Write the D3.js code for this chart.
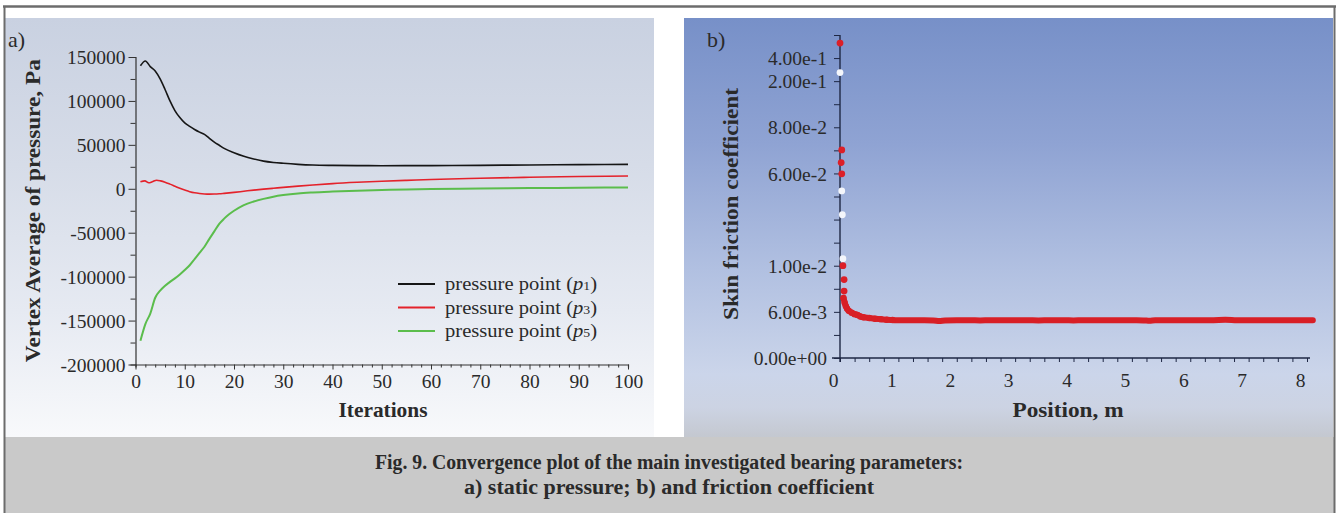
<!DOCTYPE html>
<html>
<head>
<meta charset="utf-8">
<script src="https://cdn.jsdelivr.net/npm/d3@7/dist/d3.min.js"></script>
<style>
  body { margin: 0; background: #ffffff; }
  svg { display: block; }
  text { font-family: "Liberation Serif", "Times New Roman", serif; fill: #2a2a2a; }
</style>
</head>
<body>
<svg id="chart" width="1339" height="513"></svg>
<script>
// ---------------- DATA: panel a) static pressure ----------------
const p1Iter = [1, 2, 3, 4, 5, 6, 7, 8, 9, 10, 11, 12, 13, 14, 15, 16, 17, 18, 20, 22, 24, 26, 28, 30, 33, 36, 40, 45, 50, 60, 70, 80, 90, 100];
const p1Val  = [140000, 145500, 139000, 134000, 125000, 113000, 100000, 89000, 81000, 75000, 71000, 67500, 64500, 62000, 57500, 53000, 49500, 46000, 41000, 37000, 34000, 31500, 30000, 29000, 27800, 27000, 26600, 26400, 26300, 26400, 26700, 27100, 27500, 27800];

const p3Iter = [1, 1.9, 2.7, 3.4, 4.3, 5.1, 6, 7, 8, 9, 10, 11, 12, 13, 14, 15, 16, 17, 18, 20, 22, 24, 26, 28, 30, 33, 36, 40, 45, 50, 55, 60, 70, 80, 90, 100];
const p3Val  = [7900, 9000, 6800, 8000, 9800, 9000, 7500, 5300, 2900, 500, -1500, -3300, -4600, -5400, -5900, -6100, -6000, -5700, -5200, -4100, -2800, -1500, -400, 600, 1600, 3000, 4300, 5900, 7400, 8600, 9600, 10600, 12000, 13100, 13900, 14600];

const p5Iter = [1, 2, 3, 4, 5, 6, 7, 8, 9, 10, 11, 12, 13, 14, 15, 16, 17, 18, 19, 20, 22, 24, 26, 28, 30, 33, 36, 40, 45, 50, 55, 60, 70, 80, 90, 100];
const p5Val  = [-173000, -154000, -142000, -124000, -116000, -110500, -106000, -102000, -97500, -92500, -87000, -80000, -73000, -66000, -57000, -48500, -40000, -34000, -29000, -25000, -18500, -14500, -11500, -9000, -7200, -5300, -4200, -3200, -2200, -1400, -700, -300, 300, 800, 1200, 1500];

const seriesSub = ["1", "3", "5"];
const xTicksA = [0, 10, 20, 30, 40, 50, 60, 70, 80, 90, 100];
const yTicksA = [150000, 100000, 50000, 0, -50000, -100000, -150000, -200000];

// ---------------- DATA: panel b) skin friction coefficient ----------------
const sparsePos = [0.00, 0.00, 0.03, 0.02, 0.03, 0.03, 0.04, 0.05, 0.05, 0.07, 0.07];
const sparseVal = [0.53, 0.274, 0.0702, 0.0647, 0.0598, 0.0505, 0.0376, 0.0138, 0.0100, 0.0088, 0.0078];
const sparseKind = ["red", "white", "red", "red", "red", "white", "white", "white", "red", "red", "red"];
const curvePos = [0.06, 0.08, 0.10, 0.12, 0.15, 0.20, 0.25, 0.30, 0.35, 0.40, 0.50, 0.60, 0.70, 0.80, 0.90,
  1.0, 1.2, 1.4, 1.6, 1.7, 1.8, 2.0, 2.2, 2.4, 2.6, 2.8, 3.0, 3.2, 3.4, 3.6, 3.8, 4.0, 4.2, 4.4, 4.6, 4.8,
  5.0, 5.2, 5.3, 5.4, 5.6, 5.8, 6.0, 6.2, 6.4, 6.6, 6.8, 7.0, 7.2, 7.4, 7.6, 7.8, 8.0, 8.1];
const curveVal = [0.0072, 0.0068, 0.0065, 0.0063, 0.0061, 0.0059, 0.0057, 0.0056, 0.0054, 0.0053, 0.0052, 0.0051, 0.00505, 0.00498, 0.00494,
  0.00490, 0.00491, 0.00490, 0.00488, 0.00482, 0.00488, 0.00490, 0.00490, 0.00489, 0.00490, 0.00491, 0.00490, 0.00490, 0.00489, 0.00490, 0.00490, 0.00489, 0.00490, 0.00491, 0.00490, 0.00490,
  0.00490, 0.00489, 0.00484, 0.00490, 0.00490, 0.00491, 0.00490, 0.00491, 0.00492, 0.00496, 0.00491, 0.00490, 0.00490, 0.00491, 0.00490, 0.00490, 0.00490, 0.00490];

const xTicksB = [0, 1, 2, 3, 4, 5, 6, 7, 8];
const yTickValuesB = [0, 0.006, 0.01, 0.06, 0.08, 0.2, 0.4];
const yTickLabelsB = ["0.00e+00", "6.00e-3", "1.00e-2", "6.00e-2", "8.00e-2", "2.00e-1", "4.00e-1"];
const yTickSlotsB  = [0, 2, 4, 8, 10, 12, 13];
const ySlotCountB  = 14;

const captionLines = [
  "Fig. 9. Convergence plot of the main investigated bearing parameters:",
  "a) static pressure; b) and friction coefficient"
];

// ---------------- DRAWING ----------------
const svg = d3.select("#chart");
const defs = svg.append("defs");

const gA = defs.append("linearGradient").attr("id", "bgA").attr("x1", 0).attr("y1", 0).attr("x2", 0).attr("y2", 1);
[[0, "#c9d1e1"], [0.35, "#d6dce8"], [0.7, "#e6eaf2"], [1, "#f8f9fb"]].forEach(s => gA.append("stop").attr("offset", s[0]).attr("stop-color", s[1]));
const gB = defs.append("linearGradient").attr("id", "bgB").attr("x1", 0).attr("y1", 0).attr("x2", 0).attr("y2", 1);
[[0, "#7790c8"], [0.3, "#8fa3d3"], [0.6, "#b1c0e1"], [0.85, "#cbd5ea"], [0.93, "#ccd3e3"], [1, "#c4c8d0"]].forEach(s => gB.append("stop").attr("offset", s[0]).attr("stop-color", s[1]));

svg.append("rect").attr("x", 5).attr("y", 437).attr("width", 1329).attr("height", 76).attr("fill", "#c9c9c9");
svg.append("rect").attr("x", 5).attr("y", 18).attr("width", 649).attr("height", 419).attr("fill", "url(#bgA)");
svg.append("rect").attr("x", 684).attr("y", 18).attr("width", 649).attr("height", 419).attr("fill", "url(#bgB)");
svg.append("line").attr("x1", 3).attr("x2", 1336).attr("y1", 6.5).attr("y2", 6.5).attr("stroke", "#6c6c6c").attr("stroke-width", 2.5);
svg.append("line").attr("x1", 4.5).attr("x2", 4.5).attr("y1", 6).attr("y2", 513).attr("stroke", "#6c6c6c").attr("stroke-width", 2);
svg.append("line").attr("x1", 1334.5).attr("x2", 1334.5).attr("y1", 6).attr("y2", 513).attr("stroke", "#6c6c6c").attr("stroke-width", 2);

captionLines.forEach((t, i) => {
  svg.append("text").attr("x", 669).attr("y", 469 + i * 25).attr("text-anchor", "middle")
    .attr("font-size", 20.5).attr("font-weight", "bold").attr("fill", "#222")
    .attr("textLength", i === 0 ? 588 : 410).attr("lengthAdjust", "spacingAndGlyphs").text(t);
});

// ---------- panel a ----------
const xA = d3.scaleLinear().domain([0, 100]).range([135.5, 628]);
const yA = d3.scaleLinear().domain([-200000, 150000]).range([364.5, 57]);
const axisColA = "#333";

const axA = svg.append("g").attr("transform", `translate(0,${yA(-200000)})`);
axA.call(d3.axisBottom(xA).tickValues(d3.range(0, 101, 2)).tickSize(3).tickFormat(""));
axA.call(g => g.selectAll(".tick line").filter(d => d % 10 === 0).attr("y2", 5));
axA.selectAll(".tick").filter(d => xTicksA.includes(d)).append("text")
  .attr("y", 23).attr("text-anchor", "middle").attr("font-size", 19.5).text(d => d);
axA.select(".domain").attr("stroke", axisColA).attr("stroke-width", 1.2);
axA.selectAll(".tick line").attr("stroke", axisColA);

const ayA = svg.append("g").attr("transform", `translate(${xA(0)},0)`);
ayA.call(d3.axisLeft(yA).tickValues(d3.range(-200000, 150001, 25000)).tickSize(5).tickFormat(""));
ayA.call(g => g.selectAll(".tick line").filter(d => d % 50000 === 0).attr("x2", -7));
ayA.selectAll(".tick").filter(d => yTicksA.includes(d)).append("text")
  .attr("x", -10).attr("dy", "0.34em").attr("text-anchor", "end").attr("font-size", 19.5).text(d => d);
ayA.select(".domain").attr("stroke", axisColA).attr("stroke-width", 1.2);
ayA.selectAll(".tick line").attr("stroke", axisColA);

svg.append("text").attr("x", 383).attr("y", 417).attr("text-anchor", "middle")
  .attr("font-size", 21).attr("font-weight", "bold").attr("textLength", 89).attr("lengthAdjust", "spacingAndGlyphs").text("Iterations");
svg.append("text").attr("transform", `translate(40,${yA(-25000)}) rotate(-90)`).attr("text-anchor", "middle")
  .attr("font-size", 22).attr("font-weight", "bold").attr("textLength", 303).attr("lengthAdjust", "spacingAndGlyphs")
  .text("Vertex Average of pressure, Pa");
svg.append("text").attr("x", 8).attr("y", 47).attr("font-size", 22).text("a)");

const lineA = d3.line().x(d => xA(d[0])).y(d => yA(d[1])).curve(d3.curveMonotoneX);
const seriesA = [
  { iter: p1Iter, val: p1Val, color: "#161616", w: 1.6 },
  { iter: p3Iter, val: p3Val, color: "#e4222b", w: 1.6 },
  { iter: p5Iter, val: p5Val, color: "#5bbd4c", w: 2 }
];
[2, 1, 0].forEach(i => {
  const s = seriesA[i];
  svg.append("path").datum(s.iter.map((x, k) => [x, s.val[k]]))
    .attr("fill", "none").attr("stroke", s.color).attr("stroke-width", s.w)
    .attr("stroke-linejoin", "round").attr("d", lineA);
});

const leg = svg.append("g");
seriesA.forEach((s, i) => {
  const y = 284 + i * 23.5;
  leg.append("line").attr("x1", 398).attr("x2", 435).attr("y1", y).attr("y2", y)
    .attr("stroke", s.color).attr("stroke-width", 2.2);
  const t = leg.append("text").attr("x", 445).attr("y", y + 6).attr("font-size", 19.5)
    .attr("textLength", 152).attr("lengthAdjust", "spacingAndGlyphs");
  t.append("tspan").text("pressure point (");
  t.append("tspan").attr("font-style", "italic").text("p");
  t.append("tspan").attr("font-size", 13).text(seriesSub[i]);
  t.append("tspan").text(")");
});

// ---------- panel b ----------
const xB = d3.scaleLinear().domain([0, 8]).range([840, 1307]);
const ySlot = d3.scaleLinear().domain([0, ySlotCountB]).range([358, 35]);
const valToSlot = d3.scaleLinear().domain(yTickValuesB).range(yTickSlotsB);
const yB = v => ySlot(valToSlot(v));
const axisColB = "#1e2744";

const axB = svg.append("g").attr("transform", `translate(0,${ySlot(0)})`);
axB.call(d3.axisBottom(xB).tickValues(d3.range(0, 8.01, 0.25)).tickSize(4).tickFormat(""));
axB.select(".domain").attr("d", `M${xB(0) - 8},0H${xB(8) + 3}`).attr("stroke", axisColB).attr("stroke-width", 1.4);
axB.selectAll(".tick line").attr("stroke", axisColB);
axB.selectAll(".tick").filter(d => xTicksB.includes(d)).append("text")
  .attr("x", -7).attr("y", 29).attr("text-anchor", "middle").attr("font-size", 19.5).text(d => d);

const ayB = svg.append("g").attr("transform", `translate(${xB(0)},0)`);
ayB.call(d3.axisLeft(ySlot).tickValues(d3.range(0, ySlotCountB + 1)).tickSize(6).tickFormat(""));
ayB.select(".domain").attr("d", `M0,${ySlot(0) + 4}V${ySlot(ySlotCountB)}`).attr("stroke", axisColB).attr("stroke-width", 1.4);
ayB.selectAll(".tick line").attr("stroke", axisColB);
ayB.selectAll(".tick").filter(d => yTickSlotsB.includes(d)).append("text")
  .attr("x", -13).attr("dy", "0.34em").attr("text-anchor", "end").attr("font-size", 19.5)
  .text(d => yTickLabelsB[yTickSlotsB.indexOf(d)]);

svg.append("text").attr("x", 1068).attr("y", 417).attr("text-anchor", "middle")
  .attr("font-size", 21).attr("font-weight", "bold").attr("textLength", 111).attr("lengthAdjust", "spacingAndGlyphs").text("Position, m");
svg.append("text").attr("transform", `translate(738,204) rotate(-90)`).attr("text-anchor", "middle")
  .attr("font-size", 22).attr("font-weight", "bold").attr("textLength", 232).attr("lengthAdjust", "spacingAndGlyphs")
  .text("Skin friction coefficient");
svg.append("text").attr("x", 707).attr("y", 47).attr("font-size", 22).text("b)");

const curveData = curvePos.map((x, k) => [x, curveVal[k]]);
svg.append("path").datum(curveData)
  .attr("fill", "none").attr("stroke", "#d81f26").attr("stroke-width", 6)
  .attr("stroke-linejoin", "round").attr("stroke-linecap", "round")
  .attr("d", d3.line().x(d => xB(d[0])).y(d => yB(d[1])).curve(d3.curveMonotoneX));
svg.append("g").selectAll("circle").data(curveData.filter(d => d[0] < 1)).join("circle")
  .attr("cx", d => xB(d[0])).attr("cy", d => yB(d[1])).attr("r", 3.2).attr("fill", "#d81f26");

svg.append("g").selectAll("circle").data(sparsePos.map((x, k) => [x, sparseVal[k], sparseKind[k]])).join("circle")
  .attr("cx", d => xB(d[0])).attr("cy", d => yB(d[1])).attr("r", 3.4)
  .attr("fill", d => d[2] === "red" ? "#dc1f28" : "#f4f6fb");
</script>
</body>
</html>
